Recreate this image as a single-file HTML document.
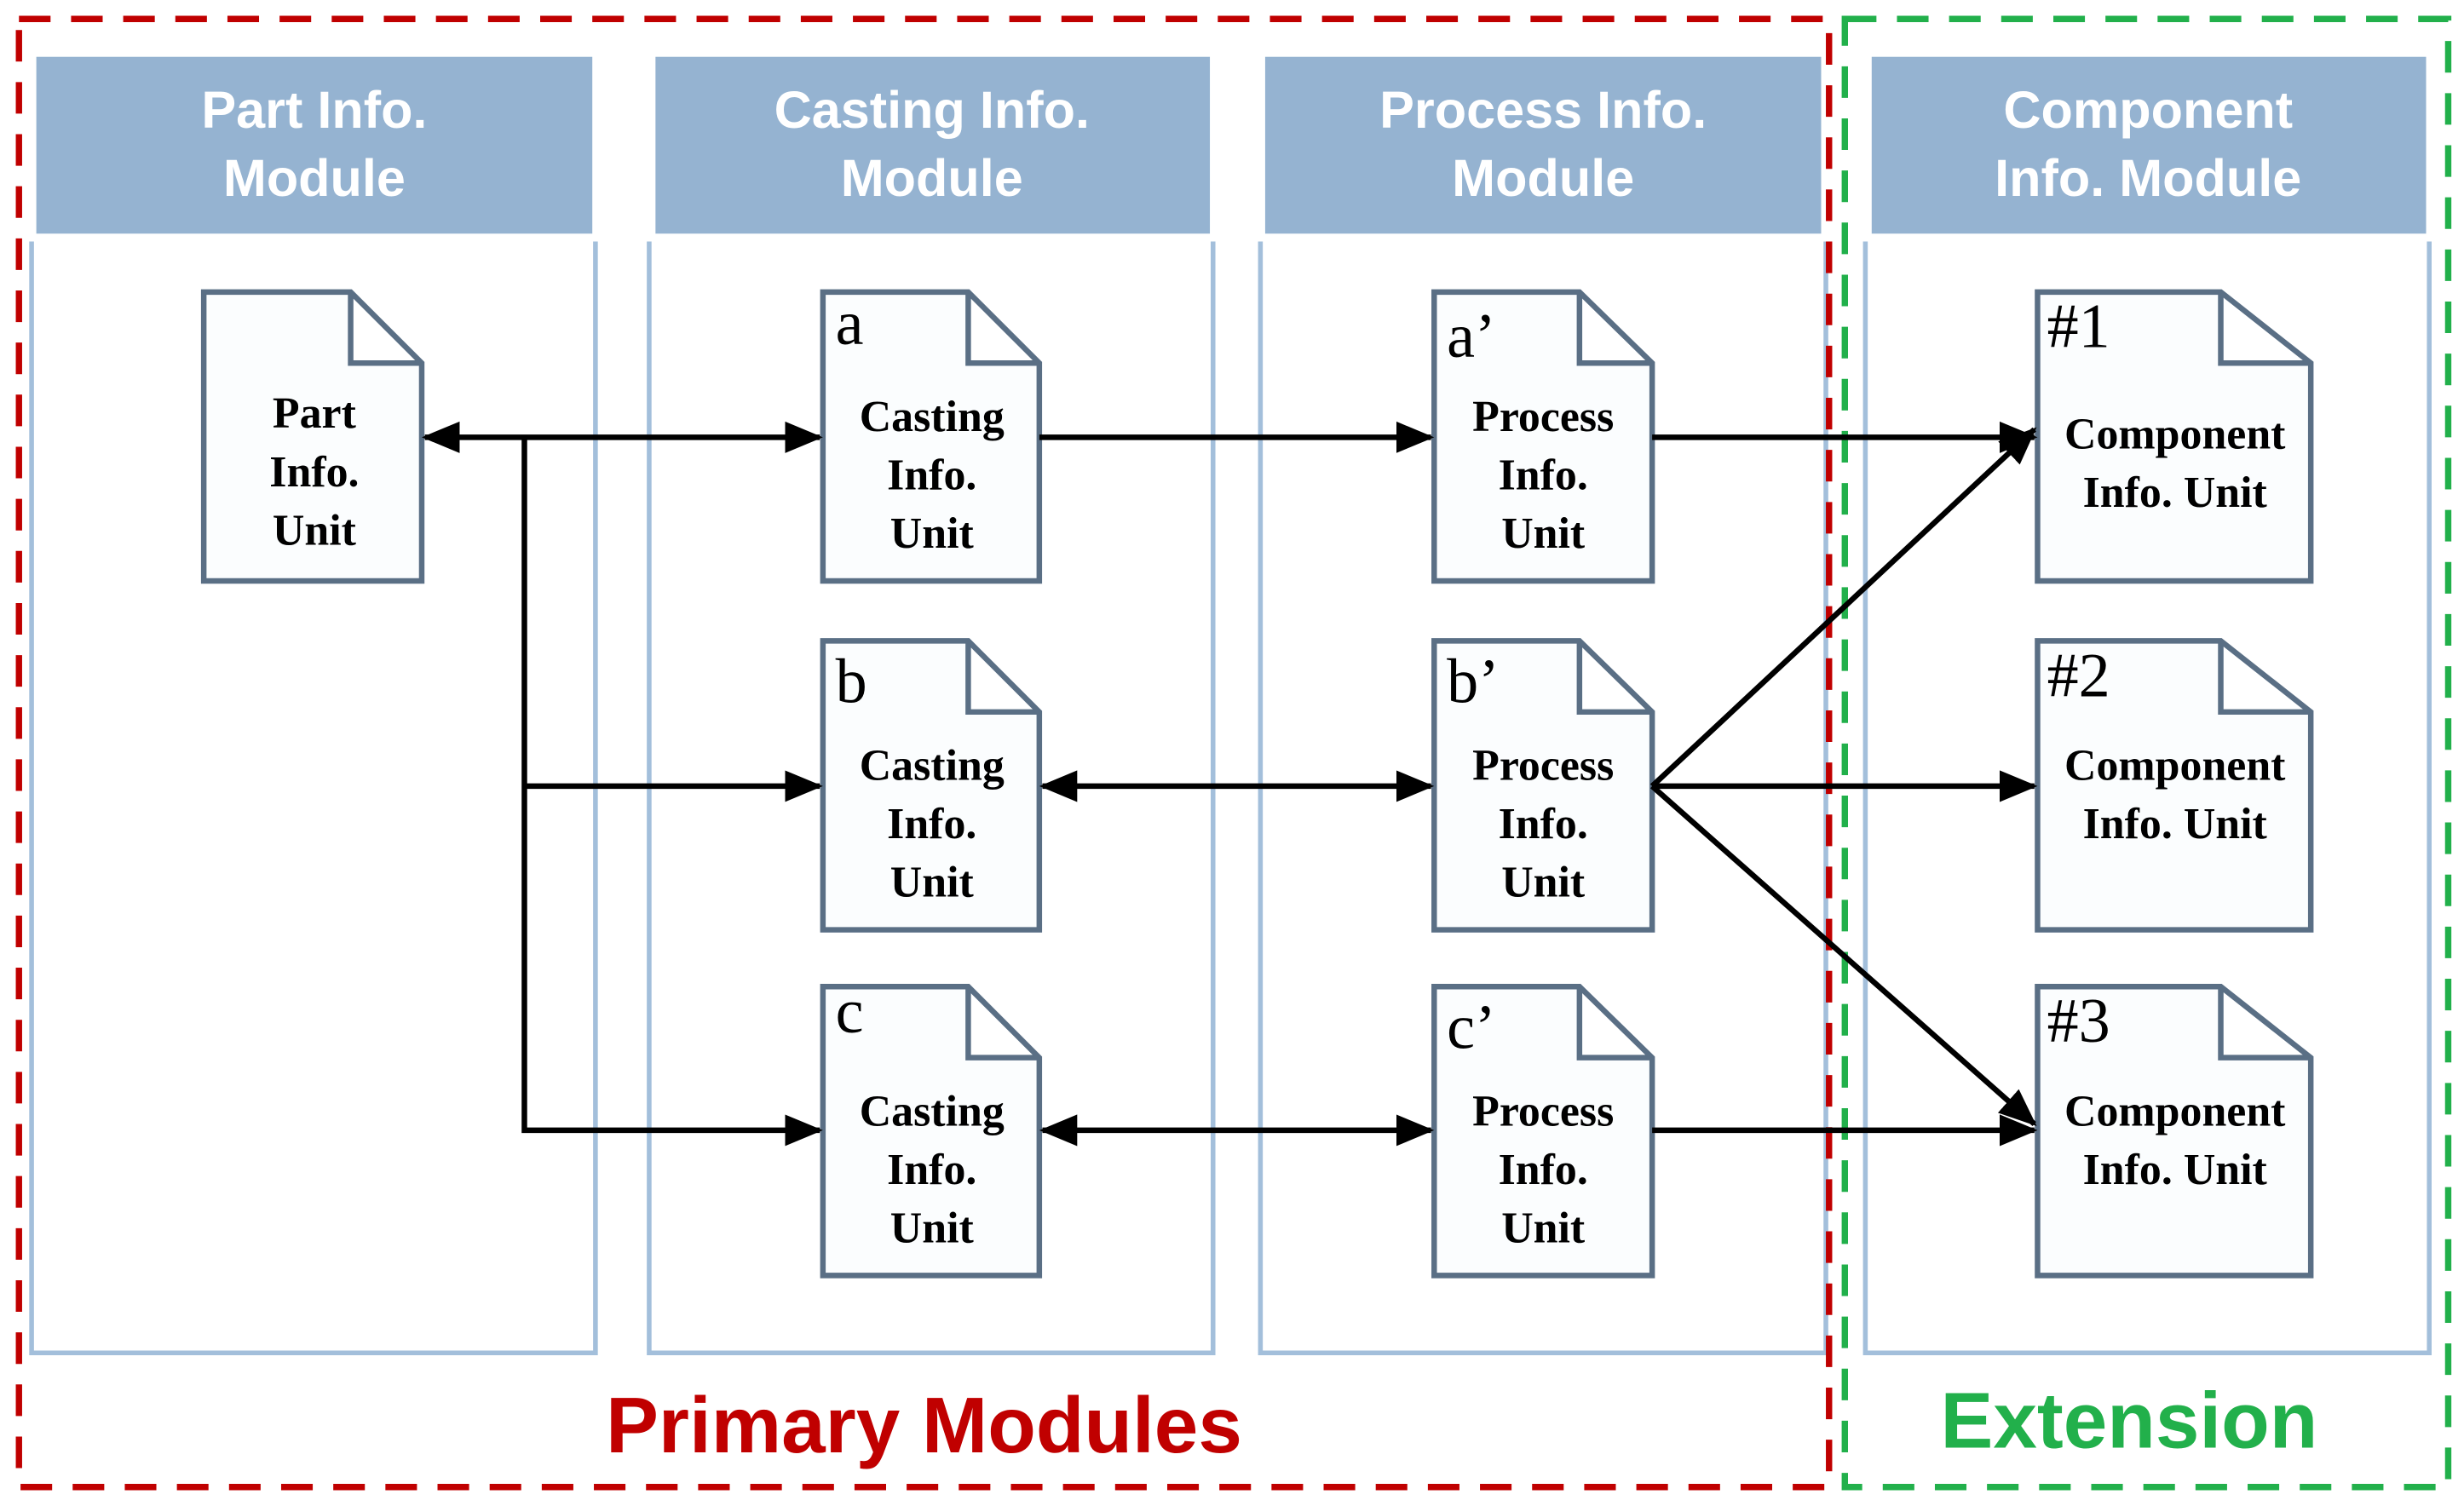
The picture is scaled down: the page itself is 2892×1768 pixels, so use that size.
<!DOCTYPE html>
<html><head><meta charset="utf-8"><style>html,body{margin:0;padding:0;background:#fff}svg{display:block}</style></head>
<body>
<svg width="2892" height="1768" viewBox="0 0 1560 954" preserveAspectRatio="none" xmlns="http://www.w3.org/2000/svg">
<defs>
<marker id="ahb" markerWidth="24" markerHeight="24" refX="22" refY="12" orient="auto-start-reverse" markerUnits="userSpaceOnUse" viewBox="0 0 24 24">
<path d="M0,2 L24,12 L0,22 z" fill="#000"/></marker>
</defs>
<rect width="1560" height="954" fill="#fff"/>
<g fill="none" stroke="#a3bfdb" stroke-width="3">
<path d="M20,153 V857 H377 V153"/>
<path d="M411,153 V857 H768 V153"/>
<path d="M798,153 V857 H1156 V153"/>
<path d="M1181,153 V857 H1538 V153"/>
</g>
<g fill="#95b3d1">
<rect x="23" y="36" width="352" height="112"/>
<rect x="415" y="36" width="351" height="112"/>
<rect x="801" y="36" width="352" height="112"/>
<rect x="1185" y="36" width="351" height="112"/>
</g>
<g fill="#fff" font-family="Liberation Sans, sans-serif" font-weight="bold" font-size="33" text-anchor="middle">
<text x="199" y="81">Part Info.</text><text x="199" y="124">Module</text>
<text x="590" y="81">Casting Info.</text><text x="590" y="124">Module</text>
<text x="977" y="81">Process Info.</text><text x="977" y="124">Module</text>
<text x="1360" y="81">Component</text><text x="1360" y="124">Info. Module</text>
</g>
<rect x="12" y="12" width="1146" height="930" fill="none" stroke="#c00000" stroke-width="4" stroke-dasharray="20,13"/>
<rect x="1168" y="12" width="382" height="930" fill="none" stroke="#22b04b" stroke-width="4" stroke-dasharray="20,13"/>
<g fill="#fbfdfe" stroke="#5a6f85" stroke-width="3.5">
<path d="M129,185 H222 L267,230 V368 H129 Z M222,185 V230 H267" />
<path d="M521,185 H613 L658,230 V368 H521 Z M613,185 V230 H658"/>
<path d="M521,406 H613 L658,451 V589 H521 Z M613,406 V451 H658"/>
<path d="M521,625 H613 L658,670 V808 H521 Z M613,625 V670 H658"/>
<path d="M908,185 H1000 L1046,230 V368 H908 Z M1000,185 V230 H1046"/>
<path d="M908,406 H1000 L1046,451 V589 H908 Z M1000,406 V451 H1046"/>
<path d="M908,625 H1000 L1046,670 V808 H908 Z M1000,625 V670 H1046"/>
<path d="M1290,185 H1406 L1463,230 V368 H1290 Z M1406,185 V230 H1463"/>
<path d="M1290,406 H1406 L1463,451 V589 H1290 Z M1406,406 V451 H1463"/>
<path d="M1290,625 H1406 L1463,670 V808 H1290 Z M1406,625 V670 H1463"/>
</g>
<g font-family="Liberation Serif, serif" font-weight="bold" font-size="28" text-anchor="middle" fill="#000">
<text x="199" y="271">Part</text><text x="199" y="308">Info.</text><text x="199" y="345">Unit</text>
<text x="590" y="273">Casting</text><text x="590" y="310">Info.</text><text x="590" y="347">Unit</text>
<text x="590" y="494">Casting</text><text x="590" y="531">Info.</text><text x="590" y="568">Unit</text>
<text x="590" y="713">Casting</text><text x="590" y="750">Info.</text><text x="590" y="787">Unit</text>
<text x="977" y="273">Process</text><text x="977" y="310">Info.</text><text x="977" y="347">Unit</text>
<text x="977" y="494">Process</text><text x="977" y="531">Info.</text><text x="977" y="568">Unit</text>
<text x="977" y="713">Process</text><text x="977" y="750">Info.</text><text x="977" y="787">Unit</text>
<text x="1377" y="284">Component</text><text x="1377" y="321">Info. Unit</text>
<text x="1377" y="494">Component</text><text x="1377" y="531">Info. Unit</text>
<text x="1377" y="713">Component</text><text x="1377" y="750">Info. Unit</text>
</g>
<g font-family="Liberation Serif, serif" font-size="40" fill="#000">
<text x="529" y="218">a</text><text x="529" y="445">b</text><text x="529" y="654">c</text>
<text x="916" y="226">a’</text><text x="916" y="445">b’</text><text x="916" y="664">c’</text>
<text x="1296" y="220">#1</text><text x="1296" y="441">#2</text><text x="1296" y="660">#3</text>
</g>
<g stroke="#000" stroke-width="3.5" fill="none">
<line x1="269" y1="277" x2="519" y2="277" marker-start="url(#ahb)" marker-end="url(#ahb)"/>
<polyline points="332,277 332,716 519,716" marker-end="url(#ahb)"/>
<line x1="332" y1="498" x2="519" y2="498" marker-end="url(#ahb)"/>
<line x1="658" y1="277" x2="906" y2="277" marker-end="url(#ahb)"/>
<line x1="660" y1="498" x2="906" y2="498" marker-start="url(#ahb)" marker-end="url(#ahb)"/>
<line x1="660" y1="716" x2="906" y2="716" marker-start="url(#ahb)" marker-end="url(#ahb)"/>
<line x1="1046" y1="277" x2="1288" y2="277" marker-end="url(#ahb)"/>
<line x1="1046" y1="498" x2="1288" y2="498" marker-end="url(#ahb)"/>
<line x1="1046" y1="716" x2="1288" y2="716" marker-end="url(#ahb)"/>
<line x1="1046" y1="498" x2="1288" y2="272" marker-end="url(#ahb)"/>
<line x1="1046" y1="498" x2="1288" y2="712" marker-end="url(#ahb)"/>
</g>
<g font-family="Liberation Sans, sans-serif" font-weight="bold" font-size="50" text-anchor="middle">
<text x="585" y="920" fill="#c00000">Primary Modules</text>
<text x="1348" y="917" fill="#22b04b">Extension</text>
</g>
</svg>
</body></html>
